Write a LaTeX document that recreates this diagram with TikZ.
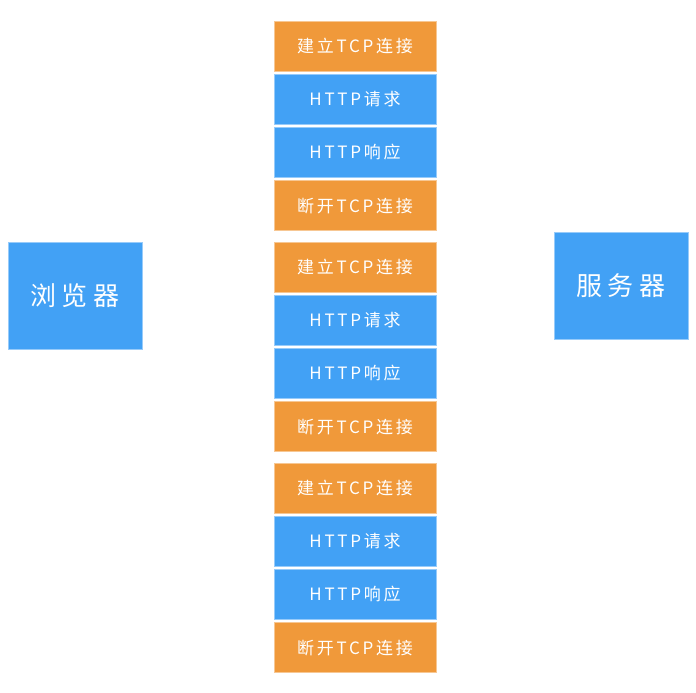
\documentclass[tikz,border=0pt]{standalone}
\usepackage{fontspec}
\setmainfont{Noto Sans CJK SC}
\usetikzlibrary{positioning}
\definecolor{stepblue}{RGB}{66,161,245}
\definecolor{steporange}{RGB}{240,153,58}

\begin{document}
\begin{tikzpicture}[
  x=1pt,y=-1pt,
  every node/.style={inner sep=0pt,text=white,line width=0.8pt},
  stage box/.style={minimum width=162pt,minimum height=50pt,
    font=\fontsize{17}{17}\selectfont\addfontfeature{LetterSpace=16}},
  tcp box/.style={stage box,fill=steporange,draw=steporange!55!white},
  http box/.style={stage box,fill=stepblue,draw=stepblue!55!white},
  end box/.style={fill=stepblue,draw=stepblue!55!white,minimum width=134pt,
    minimum height=107pt,font=\fontsize{26}{26}\selectfont\addfontfeature{LetterSpace=22}},
  ]
  \useasboundingbox (0,0) rectangle (696,693);
  \node[end box](browser) at (75,295.5){浏览器};
  \node[end box](server) at (621,286){服务器};
  % three short connections in a row
  \foreach \g/\y in {1/46,2/267,3/488}{
    \node[tcp box](open\g) at (355,\y){建立TCP连接};
    \node[http box,below=2.4pt of open\g](req\g){HTTP请求};
    \node[http box,below=2.4pt of req\g](res\g){HTTP响应};
    \node[tcp box,below=2.4pt of res\g](close\g){断开TCP连接};
  }
\end{tikzpicture}
\end{document}
